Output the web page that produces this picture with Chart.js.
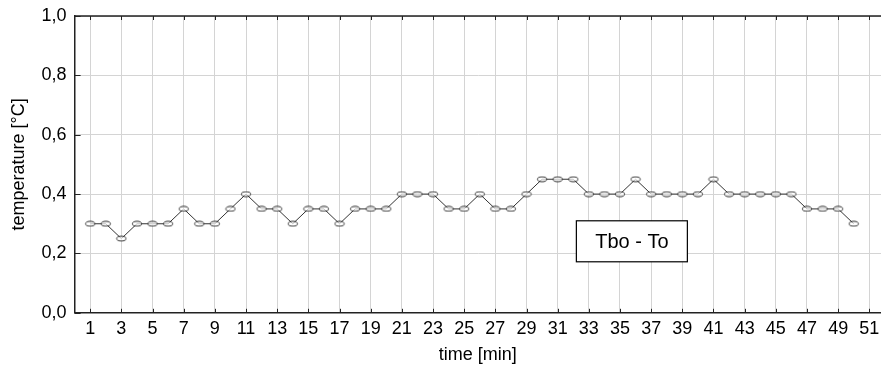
<!DOCTYPE html>
<html>
<head>
<meta charset="utf-8">
<script src="https://cdn.jsdelivr.net/npm/chart.js@4"></script>
<style>
    html, body { margin: 0; padding: 0; background: #fff; }
    #wrap { width: 881px; height: 370px; }
</style>
</head>
<body>
<div id="wrap"><canvas id="tempChart" width="881" height="370"></canvas></div>
<script>
// data
const minutes = [1, 2, 3, 4, 5, 6, 7, 8, 9, 10, 11, 12, 13, 14, 15, 16, 17, 18, 19, 20,
    21, 22, 23, 24, 25, 26, 27, 28, 29, 30, 31, 32, 33, 34, 35, 36, 37, 38, 39, 40,
    41, 42, 43, 44, 45, 46, 47, 48, 49, 50];
const tboMinusTo = [0.30, 0.30, 0.25, 0.30, 0.30, 0.30, 0.35, 0.30, 0.30, 0.35,
    0.40, 0.35, 0.35, 0.30, 0.35, 0.35, 0.30, 0.35, 0.35, 0.35,
    0.40, 0.40, 0.40, 0.35, 0.35, 0.40, 0.35, 0.35, 0.40, 0.45,
    0.45, 0.45, 0.40, 0.40, 0.40, 0.45, 0.40, 0.40, 0.40, 0.40,
    0.45, 0.40, 0.40, 0.40, 0.40, 0.40, 0.35, 0.35, 0.35, 0.30];
const xTicks = [1, 3, 5, 7, 9, 11, 13, 15, 17, 19, 21, 23, 25, 27, 29, 31, 33, 35, 37, 39, 41, 43, 45, 47, 49, 51];
const yTicks = [0, 0.2, 0.4, 0.6, 0.8, 1.0];
const seriesLabel = 'Tbo - To';

const FONT = "'Liberation Sans', Arial, sans-serif";
const FSIZE = 18;

// small flat ellipse marker
function ellipseMarker() {
    const c = document.createElement('canvas');
    c.width = 12; c.height = 7;
    const g = c.getContext('2d');
    g.beginPath();
    g.ellipse(6, 3.5, 4.6, 2.4, 0, 0, Math.PI * 2);
    g.fillStyle = 'rgba(255,255,255,0.7)';
    g.fill();
    g.lineWidth = 0.9;
    g.strokeStyle = '#222';
    g.stroke();
    return c;
}

// top border, inward tick marks and the label box
const framePlugin = {
    id: 'frame',
    afterDraw(chart) {
        const ctx = chart.ctx;
        const a = chart.chartArea;
        const xs = chart.scales.x, ys = chart.scales.y;
        ctx.save();
        ctx.strokeStyle = '#222';
        ctx.lineWidth = 1.5;
        ctx.beginPath();
        ctx.moveTo(a.left, a.top);
        ctx.lineTo(a.right, a.top);
        ctx.stroke();

        ctx.lineWidth = 1;
        ctx.beginPath();
        yTicks.forEach(v => {
            const y = Math.round(ys.getPixelForValue(v)) + 0.5;
            ctx.moveTo(a.left, y);
            ctx.lineTo(a.left + 6, y);
        });
        xTicks.forEach(v => {
            const x = Math.round(xs.getPixelForValue(v)) + 0.5;
            ctx.moveTo(x, a.bottom);
            ctx.lineTo(x, a.bottom - 4);
            ctx.moveTo(x, a.top);
            ctx.lineTo(x, a.top + 4);
        });
        ctx.stroke();

        // label box
        const bx = xs.getPixelForValue(32.2);
        const by = ys.getPixelForValue(0.31);
        const bw = 111, bh = 41;
        ctx.fillStyle = '#fff';
        ctx.fillRect(bx, by, bw, bh);
        ctx.strokeStyle = '#000';
        ctx.lineWidth = 1.2;
        ctx.strokeRect(bx, by, bw, bh);
        ctx.fillStyle = '#000';
        ctx.font = '20px ' + FONT;
        ctx.textAlign = 'center';
        ctx.textBaseline = 'middle';
        ctx.fillText(seriesLabel, bx + bw / 2, by + bh / 2 + 1);
        ctx.restore();
    }
};

const points = minutes.map((m, i) => ({ x: m, y: tboMinusTo[i] }));

new Chart(document.getElementById('tempChart'), {
    type: 'line',
    data: {
        datasets: [{
            label: seriesLabel,
            data: points,
            borderColor: '#333',
            borderWidth: 1,
            tension: 0,
            pointStyle: ellipseMarker(),
            pointRadius: 4,
            pointHoverRadius: 4
        }]
    },
    options: {
        responsive: false,
        animation: false,
        layout: {
            autoPadding: false,
            padding: { top: 16, right: 0, left: 8, bottom: 4 }
        },
        plugins: {
            legend: { display: false },
            tooltip: { enabled: false }
        },
        scales: {
            x: {
                type: 'linear',
                min: 0,
                max: 51.75,
                afterBuildTicks: function(scale) {
                    scale.ticks = xTicks.map(v => ({ value: v }));
                },
                afterFit: function(scale) {
                    scale.paddingRight = 0;
                },
                grid: {
                    color: '#d4d4d4',
                    drawTicks: false
                },
                border: { color: '#222', width: 1.5 },
                ticks: {
                    color: '#000',
                    font: { family: FONT, size: FSIZE },
                    padding: 5,
                    maxRotation: 0,
                    autoSkip: false
                },
                title: {
                    display: true,
                    text: 'time [min]',
                    color: '#000',
                    font: { family: FONT, size: FSIZE },
                    padding: { top: 0, bottom: 0 }
                }
            },
            y: {
                min: 0,
                max: 1,
                afterBuildTicks: function(scale) {
                    scale.ticks = yTicks.map(v => ({ value: v }));
                },
                afterFit: function(scale) {
                    scale.paddingTop = 0;
                },
                grid: {
                    color: '#d4d4d4',
                    drawTicks: false
                },
                border: { color: '#222', width: 1.5 },
                ticks: {
                    color: '#000',
                    font: { family: FONT, size: FSIZE },
                    padding: 8,
                    callback: function(value) {
                        return value.toFixed(1).replace('.', ',');
                    }
                },
                title: {
                    display: true,
                    text: 'temperature [°C]',
                    color: '#000',
                    font: { family: FONT, size: FSIZE },
                    padding: { top: 0, bottom: 4 }
                }
            }
        }
    },
    plugins: [framePlugin]
});
</script>
</body>
</html>
